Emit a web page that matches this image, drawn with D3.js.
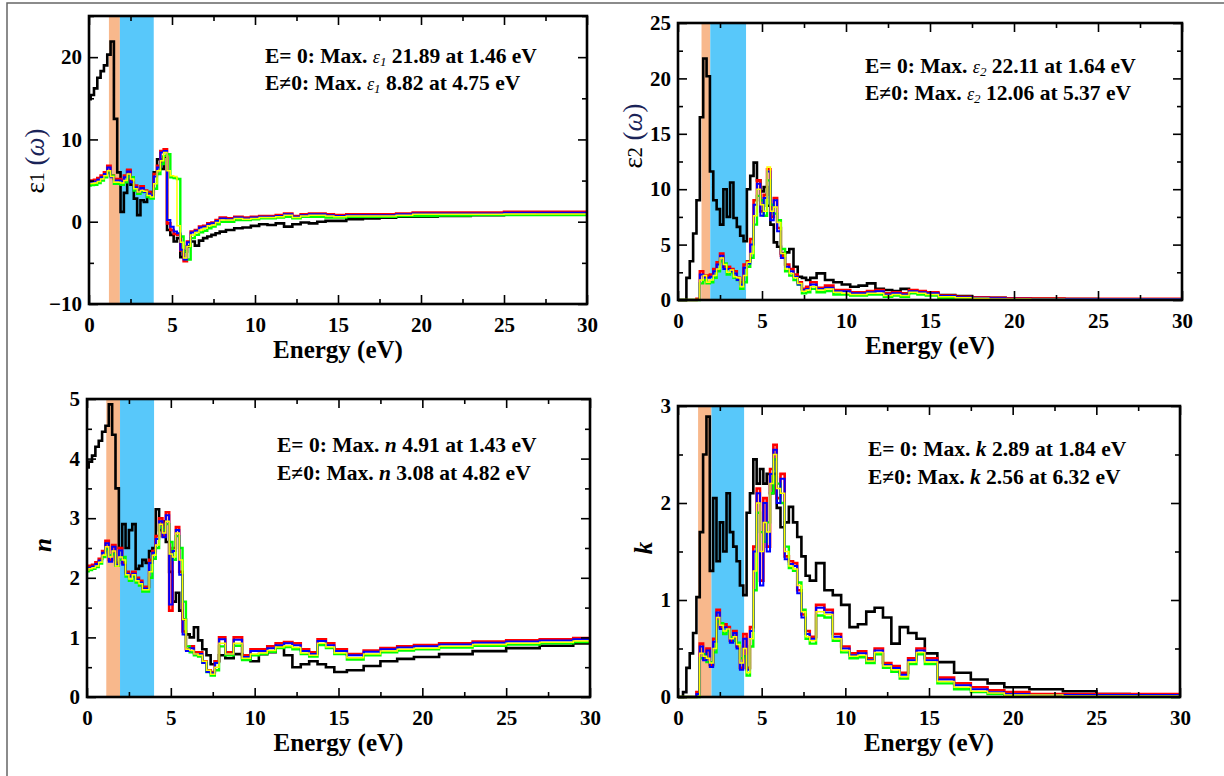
<!DOCTYPE html>
<html>
<head>
<meta charset="utf-8">
<script src="https://cdn.jsdelivr.net/npm/d3@7"></script>
<style>
	body { margin: 0; background: #fff; }
	svg { display: block; }
</style>
</head>
<body>
<div id="fig"></div>
<script>
// photon energy grid (eV), shared by every curve
const energy = [0, 0.2, 0.4, 0.6, 0.8, 1.0, 1.2, 1.4, 1.6, 1.8,
	2.0, 2.2, 2.4, 2.6, 2.8, 3.0, 3.2, 3.4, 3.6, 3.8,
	4.0, 4.2, 4.4, 4.6, 4.8, 5.0, 5.2, 5.4, 5.6, 5.8,
	6.0, 6.25, 6.5, 6.75, 7.0, 7.25, 7.5, 7.75, 8.0, 8.5,
	9, 9.5, 10, 10.5, 11, 11.5, 12, 12.5, 13, 13.5,
	14, 14.5, 15, 16, 17, 18, 19, 20, 22, 24,
	26, 28, 30]

// eps1 (real part)
const eps1Black = [14.9, 15.4, 16.2, 17.5, 18.3, 19.0, 20.3, 21.9, 12.5, 6.0,
	1.2, 3.5, 6.2, 4.5, 2.8, 0.8, 2.6, 2.4, 3.2, 3.6,
	6.0, 7.6, 6.4, 7.9, -1.0, -1.6, -2.4, -2.0, -4.3, -3.6,
	-3.0, -2.4, -2.9, -2.3, -2.0, -1.8, -1.6, -1.4, -1.2, -1.0,
	-0.8, -0.7, -0.5, -0.3, -0.4, -0.2, -0.6, -0.3, -0.1, -0.2,
	0.0, 0.1, 0.1, 0.3, 0.4, 0.5, 0.6, 0.6, 0.7, 0.8,
	0.85, 0.9, 0.9]
const eps1Red = [5.0, 5.0, 5.1, 5.3, 5.6, 6.0, 6.8, 5.6, 5.2, 5.2,
	5.1, 5.6, 6.3, 5.0, 4.4, 3.8, 4.3, 3.8, 3.6, 3.4,
	5.8, 6.8, 8.6, 8.8, -0.2, -1.0, -1.5, -1.6, -3.5, -4.8,
	-2.4, -1.2, -1.0, -0.6, -0.5, -0.2, -0.1, 0.2, 0.5, 0.4,
	0.6, 0.5, 0.6, 0.7, 0.7, 0.8, 1.0, 0.7, 0.9, 1.0,
	1.0, 0.9, 0.8, 0.9, 0.9, 0.9, 1.0, 1.1, 1.1, 1.1,
	1.2, 1.2, 1.2]
const eps1Blue = [4.8, 4.85, 4.9, 5.1, 5.4, 5.8, 6.6, 5.4, 5.0, 5.0,
	4.9, 5.4, 6.1, 4.8, 4.2, 3.6, 4.1, 3.6, 3.4, 3.2,
	5.5, 6.6, 8.4, 8.6, 0.2, -0.6, -1.2, -1.4, -3.4, -4.6,
	-2.5, -1.3, -1.1, -0.7, -0.6, -0.3, -0.2, 0.1, 0.4, 0.3,
	0.5, 0.4, 0.5, 0.6, 0.6, 0.7, 0.9, 0.6, 0.8, 0.9,
	0.9, 0.8, 0.7, 0.8, 0.8, 0.8, 0.9, 1.0, 1.0, 1.0,
	1.1, 1.1, 1.1]
const eps1Yellow = [4.6, 4.65, 4.7, 4.9, 5.2, 5.6, 6.2, 5.5, 4.8, 4.8,
	4.7, 5.0, 5.8, 5.2, 4.0, 3.6, 3.8, 3.7, 3.2, 3.0,
	4.6, 6.2, 7.4, 8.4, 6.2, 5.6, 5.5, -0.5, -2.5, -4.4,
	-3.0, -1.6, -1.3, -1.0, -0.8, -0.5, -0.4, -0.1, 0.2, 0.2,
	0.4, 0.3, 0.4, 0.5, 0.5, 0.6, 0.8, 0.5, 0.7, 0.8,
	0.8, 0.7, 0.6, 0.7, 0.7, 0.7, 0.8, 0.9, 0.9, 0.9,
	0.95, 0.95, 0.95]
const eps1Green = [4.4, 4.45, 4.5, 4.7, 5.0, 5.4, 6.0, 5.6, 4.6, 4.6,
	4.5, 4.8, 5.5, 5.4, 3.8, 3.4, 3.6, 3.6, 3.0, 2.8,
	4.0, 5.8, 7.0, 8.0, 8.2, 5.4, 5.3, 5.2, -1.8, -3.6,
	-4.6, -2.0, -1.6, -1.3, -1.1, -0.8, -0.6, -0.3, 0.0, 0.0,
	0.2, 0.2, 0.3, 0.4, 0.4, 0.5, 0.6, 0.4, 0.6, 0.6,
	0.6, 0.5, 0.5, 0.6, 0.6, 0.6, 0.7, 0.7, 0.75, 0.8,
	0.8, 0.8, 0.8]

// eps2 (imaginary part)
const eps2Black = [0, 0, 0, 2.0, 3.5, 6.0, 9.0, 16.5, 21.8, 20.2,
	11.6, 9.0, 8.2, 6.8, 10.0, 7.5, 10.6, 7.4, 6.6, 5.8,
	5.3, 10.0, 11.2, 12.4, 10.8, 9.8, 10.2, 8.5, 6.8, 5.2,
	4.8, 4.2, 4.3, 4.6, 3.0, 2.1, 2.0, 1.8, 2.0, 2.4,
	1.8, 1.6, 1.4, 1.2, 1.3, 1.5, 1.0, 0.9, 0.8, 1.0,
	0.8, 0.7, 0.6, 0.45, 0.35, 0.25, 0.2, 0.15, 0.1, 0.08,
	0.06, 0.05, 0.05]
const eps2Red = [0, 0, 0, 0, 0, 0, 0.1, 2.6, 2.2, 2.2,
	2.3, 2.8, 3.4, 4.2, 3.0, 3.0, 2.8, 2.6, 2.0, 1.6,
	3.2, 3.5, 5.5, 9.0, 10.8, 8.0, 9.5, 11.8, 7.5, 9.2,
	6.5, 4.0, 3.2, 2.8, 2.3, 1.6, 1.0, 1.2, 1.6, 1.1,
	1.3, 0.9, 0.9, 0.7, 0.7, 0.8, 0.9, 0.6, 0.7, 0.6,
	0.9, 0.8, 0.7, 0.4, 0.3, 0.25, 0.2, 0.15, 0.12, 0.1,
	0.1, 0.1, 0.1]
const eps2Blue = [0, 0, 0, 0, 0, 0, 0, 2.3, 2.0, 2.0,
	2.1, 2.6, 3.2, 4.0, 2.8, 2.8, 2.6, 2.4, 1.8, 1.4,
	2.9, 3.3, 5.0, 8.6, 10.5, 7.6, 9.2, 11.6, 7.2, 9.0,
	6.2, 3.8, 3.0, 2.6, 2.1, 1.4, 0.9, 1.0, 1.4, 1.0,
	1.1, 0.8, 0.8, 0.6, 0.6, 0.7, 0.8, 0.5, 0.6, 0.5,
	0.8, 0.7, 0.6, 0.35, 0.25, 0.2, 0.15, 0.12, 0.1, 0.1,
	0.1, 0.1, 0.1]
const eps2Yellow = [0, 0, 0, 0, 0, 0, 0, 1.8, 2.2, 1.6,
	1.8, 2.2, 2.8, 3.8, 3.2, 2.5, 2.7, 2.1, 2.0, 1.2,
	2.2, 3.4, 4.2, 7.6, 10.0, 8.6, 8.0, 12.0, 8.0, 8.4,
	7.0, 4.2, 2.8, 2.4, 2.0, 1.5, 0.8, 0.9, 1.2, 0.9,
	1.0, 0.7, 0.6, 0.5, 0.5, 0.6, 0.6, 0.4, 0.5, 0.4,
	0.7, 0.6, 0.5, 0.3, 0.2, 0.15, 0.1, 0.08, 0.06, 0.05,
	0.05, 0.05, 0.05]
const eps2Green = [0, 0, 0, 0, 0, 0, 0, 1.5, 1.8, 1.5,
	1.6, 2.0, 2.6, 3.5, 3.3, 2.3, 2.5, 2.0, 1.8, 1.0,
	1.6, 3.0, 3.8, 6.8, 9.4, 9.0, 7.6, 10.8, 8.6, 7.8,
	7.2, 4.6, 2.6, 2.2, 1.8, 1.4, 0.6, 0.7, 1.0, 0.7,
	0.8, 0.5, 0.5, 0.4, 0.4, 0.5, 0.5, 0.3, 0.4, 0.3,
	0.6, 0.5, 0.4, 0.2, 0.15, 0.1, 0.05, 0.03, 0.02, 0.02,
	0.02, 0.02, 0.02]

// refractive index n
const nBlack = [3.85, 3.95, 4.05, 4.2, 4.3, 4.45, 4.55, 4.91, 4.4, 3.5,
	2.5, 2.9, 2.5, 2.8, 2.9, 2.15, 2.2, 2.3, 2.25, 2.45,
	2.5, 3.15, 2.8, 2.95, 2.6, 2.1, 1.6, 1.75, 1.45, 1.3,
	1.05, 1.0, 1.17, 0.95, 0.8, 0.7, 0.55, 0.6, 0.7, 0.65,
	0.72, 0.65, 0.6, 0.72, 0.75, 0.84, 0.7, 0.5, 0.55, 0.6,
	0.55, 0.5, 0.42, 0.45, 0.52, 0.6, 0.64, 0.67, 0.72, 0.77,
	0.82, 0.86, 0.9]
const nRed = [2.18, 2.2, 2.22, 2.26, 2.32, 2.45, 2.62, 2.3, 2.55, 2.25,
	2.5, 2.25, 2.1, 2.05, 2.1, 2.0, 1.95, 1.85, 1.85, 2.3,
	2.45, 2.7, 3.0, 2.7, 3.1, 1.45, 2.5, 2.85, 2.1, 1.1,
	0.8, 0.85, 0.75, 0.75, 0.6, 0.45, 0.42, 0.6, 1.0, 0.75,
	1.0, 0.7, 0.8, 0.8, 0.85, 0.9, 0.92, 0.9, 0.8, 0.75,
	0.97, 0.9, 0.8, 0.72, 0.78, 0.82, 0.85, 0.87, 0.9, 0.93,
	0.95, 0.97, 0.99]
const nBlue = [2.15, 2.17, 2.19, 2.23, 2.29, 2.42, 2.58, 2.27, 2.52, 2.22,
	2.46, 2.22, 2.07, 2.02, 2.07, 1.97, 1.92, 1.82, 1.82, 2.25,
	2.42, 2.65, 2.95, 2.68, 3.05, 1.55, 2.45, 2.8, 2.05, 1.05,
	0.77, 0.82, 0.72, 0.72, 0.57, 0.42, 0.4, 0.57, 0.97, 0.72,
	0.96, 0.67, 0.77, 0.77, 0.82, 0.87, 0.9, 0.87, 0.77, 0.72,
	0.94, 0.87, 0.77, 0.7, 0.76, 0.8, 0.83, 0.85, 0.88, 0.91,
	0.93, 0.95, 0.97]
const nYellow = [2.13, 2.15, 2.17, 2.2, 2.26, 2.38, 2.52, 2.35, 2.45, 2.2,
	2.35, 2.3, 2.05, 1.98, 2.05, 1.95, 1.9, 1.8, 1.8, 2.1,
	2.38, 2.55, 2.9, 2.75, 2.95, 2.4, 2.35, 2.75, 2.3, 1.3,
	0.8, 0.78, 0.72, 0.7, 0.6, 0.45, 0.38, 0.5, 0.9, 0.72,
	0.9, 0.65, 0.72, 0.74, 0.78, 0.84, 0.86, 0.83, 0.74, 0.7,
	0.9, 0.84, 0.74, 0.66, 0.72, 0.77, 0.8, 0.82, 0.85, 0.88,
	0.9, 0.92, 0.94]
const nGreen = [2.11, 2.13, 2.15, 2.18, 2.24, 2.35, 2.48, 2.38, 2.4, 2.2,
	2.3, 2.35, 2.02, 1.95, 2.02, 1.92, 1.87, 1.77, 1.77, 2.0,
	2.32, 2.5, 2.85, 2.8, 2.9, 2.6, 2.3, 2.7, 2.5, 1.6,
	0.85, 0.75, 0.7, 0.68, 0.58, 0.42, 0.36, 0.45, 0.85, 0.7,
	0.86, 0.62, 0.7, 0.72, 0.76, 0.82, 0.84, 0.8, 0.72, 0.68,
	0.87, 0.82, 0.72, 0.63, 0.7, 0.75, 0.78, 0.8, 0.83, 0.86,
	0.88, 0.9, 0.92]

// extinction coefficient k
const kBlack = [0, 0, 0.05, 0.3, 0.45, 0.66, 1.03, 1.7, 2.5, 2.89,
	1.3, 2.05, 1.4, 1.8, 1.5, 2.1, 1.7, 1.55, 1.4, 1.15,
	1.05, 1.9, 2.1, 2.45, 2.2, 2.35, 2.2, 2.3, 2.1, 2.3,
	1.95, 1.75, 1.8, 1.96, 1.8, 1.65, 1.45, 1.25, 1.2, 1.38,
	1.1, 1.05, 0.95, 0.72, 0.75, 0.88, 0.92, 0.82, 0.55, 0.72,
	0.66, 0.6, 0.45, 0.36, 0.25, 0.18, 0.14, 0.1, 0.08, 0.06,
	0.03, 0.02, 0.02]
const kRed = [0, 0, 0, 0, 0, 0, 0.05, 0.55, 0.4, 0.5,
	0.33, 0.6, 0.9, 0.72, 0.75, 0.72, 0.58, 0.68, 0.52, 0.3,
	0.65, 0.3, 0.72, 1.55, 2.15, 1.2, 2.05, 1.55, 2.35, 2.6,
	2.05, 2.3, 1.45, 1.4, 1.38, 1.1, 0.85, 0.68, 0.62, 0.95,
	0.9, 0.65, 0.52, 0.45, 0.47, 0.4, 0.5, 0.35, 0.32, 0.25,
	0.4, 0.5, 0.4, 0.2, 0.14, 0.1, 0.07, 0.05, 0.03, 0.03,
	0.03, 0.03, 0.03]
const kBlue = [0, 0, 0, 0, 0, 0, 0.03, 0.52, 0.38, 0.48,
	0.31, 0.57, 0.87, 0.7, 0.72, 0.7, 0.56, 0.66, 0.5, 0.28,
	0.6, 0.28, 0.68, 1.5, 2.1, 1.15, 2.0, 1.5, 2.3, 2.55,
	2.0, 2.25, 1.42, 1.37, 1.35, 1.07, 0.82, 0.65, 0.6, 0.92,
	0.87, 0.62, 0.5, 0.43, 0.45, 0.38, 0.48, 0.33, 0.3, 0.23,
	0.38, 0.48, 0.38, 0.18, 0.12, 0.08, 0.05, 0.03, 0.02, 0.02,
	0.02, 0.02, 0.02]
const kYellow = [0, 0, 0, 0, 0, 0, 0, 0.45, 0.42, 0.4,
	0.35, 0.5, 0.82, 0.74, 0.68, 0.7, 0.6, 0.62, 0.54, 0.35,
	0.5, 0.25, 0.6, 1.3, 2.0, 1.5, 1.8, 1.7, 2.2, 2.5,
	2.15, 2.1, 1.5, 1.35, 1.32, 1.15, 0.88, 0.62, 0.58, 0.88,
	0.85, 0.6, 0.48, 0.42, 0.43, 0.37, 0.46, 0.32, 0.28, 0.21,
	0.36, 0.46, 0.36, 0.16, 0.1, 0.06, 0.04, 0.02, 0.02, 0.01,
	0.01, 0.01, 0.01]
const kGreen = [0, 0, 0, 0, 0, 0, 0, 0.4, 0.44, 0.36,
	0.36, 0.46, 0.78, 0.76, 0.65, 0.68, 0.62, 0.58, 0.56, 0.4,
	0.42, 0.22, 0.52, 1.1, 1.9, 1.7, 1.6, 1.8, 2.1, 2.45,
	2.2, 2.0, 1.55, 1.33, 1.3, 1.18, 0.9, 0.6, 0.55, 0.84,
	0.82, 0.58, 0.46, 0.4, 0.41, 0.35, 0.44, 0.3, 0.26, 0.19,
	0.34, 0.44, 0.34, 0.14, 0.08, 0.05, 0.03, 0.01, 0.01, 0.0,
	0.0, 0.0, 0.0]

// shaded energy windows (eV) per panel
const orangeBands = [[1.2, 1.86], [1.4, 1.92], [1.15, 1.97], [1.2, 2.0]]
const blueBands = [[1.86, 3.9], [1.92, 4.05], [1.97, 4.0], [2.0, 3.95]]

// annotation numbers
const maxZero = ["21.89", "22.11", "4.91", "2.89"]
const atZero = ["1.46", "1.64", "1.43", "1.84"]
const maxField = ["8.82", "12.06", "3.08", "2.56"]
const atField = ["4.75", "5.37", "4.82", "6.32"]

const xMajor = [0, 5, 10, 15, 20, 25, 30]
const xMinor = [2.5, 7.5, 12.5, 17.5, 22.5, 27.5]

const seriesColors = ["#ff0000", "#00ff00", "#0000ff", "#ffff00"]

const panels = [
	{ left: 89, right: 587, top: 16, bottom: 304, yDomain: [-10, 25], yMajor: [-10, 0, 10, 20], yMinor: [-5, 5, 15, 25],
		black: eps1Black, colored: [eps1Red, eps1Green, eps1Blue, eps1Yellow],
		sym: "ε", sub: "1", noteX: 265, noteY: [63, 90], labelX: 35, labelY: 161 },
	{ left: 678, right: 1182, top: 23, bottom: 300, yDomain: [0, 25], yMajor: [0, 5, 10, 15, 20, 25], yMinor: [2.5, 7.5, 12.5, 17.5, 22.5],
		black: eps2Black, colored: [eps2Red, eps2Green, eps2Blue, eps2Yellow],
		sym: "ε", sub: "2", noteX: 865, noteY: [73, 100], labelX: 633, labelY: 136 },
	{ left: 87, right: 590, top: 399, bottom: 697, yDomain: [0, 5], yMajor: [0, 1, 2, 3, 4, 5], yMinor: [0.5, 1.5, 2.5, 3.5, 4.5],
		black: nBlack, colored: [nRed, nGreen, nBlue, nYellow],
		sym: "n", sub: "", noteX: 277, noteY: [452, 480], labelX: 42, labelY: 545 },
	{ left: 678, right: 1180, top: 406, bottom: 697, yDomain: [0, 3], yMajor: [0, 1, 2, 3], yMinor: [0.5, 1.5, 2.5],
		black: kBlack, colored: [kRed, kGreen, kBlue, kYellow],
		sym: "k", sub: "", noteX: 868, noteY: [456, 484], labelX: 643, labelY: 548 }
]

const serif = "'Liberation Serif', 'DejaVu Serif', serif"

const svg = d3.select("#fig")
	.append("svg")
	.attr("width", 1224)
	.attr("height", 776)
	.style("font-family", serif)

// outer frame of the figure
svg.append("rect")
	.attr("x", 7)
	.attr("y", 3)
	.attr("width", 1300)
	.attr("height", 900)
	.attr("fill", "#fff")
	.attr("stroke", "#666")
	.attr("stroke-width", 1.5)

panels.forEach((p, i) => drawPanel(p, i))

function drawPanel(p, i) {
	const x = d3.scaleLinear().domain([0, 30]).range([p.left, p.right])
	const y = d3.scaleLinear().domain(p.yDomain).range([p.bottom, p.top])
	const g = svg.append("g")

	// bands
	g.append("rect")
		.attr("x", x(orangeBands[i][0]))
		.attr("y", p.top)
		.attr("width", x(orangeBands[i][1]) - x(orangeBands[i][0]))
		.attr("height", p.bottom - p.top)
		.attr("fill", "#f8b88c")
	g.append("rect")
		.attr("x", x(blueBands[i][0]))
		.attr("y", p.top)
		.attr("width", x(blueBands[i][1]) - x(blueBands[i][0]))
		.attr("height", p.bottom - p.top)
		.attr("fill", "#58c8fa")

	const line = d3.line()
		.x((d, j) => x(energy[j]))
		.y(d => y(d))
		.curve(d3.curveStep)

	g.append("path")
		.attr("d", line(p.black))
		.attr("fill", "none")
		.attr("stroke", "#000")
		.attr("stroke-width", 2.6)

	const widths = [2.6, 2.4, 2, 1.5]
	p.colored.forEach((vals, k) => {
		g.append("path")
			.attr("d", line(vals))
			.attr("fill", "none")
			.attr("stroke", seriesColors[k])
			.attr("stroke-width", widths[k])
	})

	// axes, ticks pointing inward on all four sides
	const font = s => s.attr("font-family", serif)
		.attr("font-size", 21)
		.attr("font-weight", "bold")

	g.append("g")
		.attr("transform", `translate(0,${p.bottom})`)
		.call(d3.axisBottom(x).tickValues(xMajor).tickSize(-9).tickPadding(13).tickFormat(d3.format("d")))
		.call(font)
	g.append("g")
		.attr("transform", `translate(0,${p.bottom})`)
		.call(d3.axisBottom(x).tickValues(xMinor).tickSize(-5).tickFormat(""))
	g.append("g")
		.attr("transform", `translate(0,${p.top})`)
		.call(d3.axisTop(x).tickValues(xMajor).tickSize(-9).tickFormat(""))
	g.append("g")
		.attr("transform", `translate(0,${p.top})`)
		.call(d3.axisTop(x).tickValues(xMinor).tickSize(-5).tickFormat(""))

	g.append("g")
		.attr("transform", `translate(${p.left},0)`)
		.call(d3.axisLeft(y).tickValues(p.yMajor).tickSize(-9).tickPadding(7).tickFormat(d3.format("d")))
		.call(font)
	g.append("g")
		.attr("transform", `translate(${p.left},0)`)
		.call(d3.axisLeft(y).tickValues(p.yMinor).tickSize(-5).tickFormat(""))
	g.append("g")
		.attr("transform", `translate(${p.right},0)`)
		.call(d3.axisRight(y).tickValues(p.yMajor).tickSize(-9).tickFormat(""))
	g.append("g")
		.attr("transform", `translate(${p.right},0)`)
		.call(d3.axisRight(y).tickValues(p.yMinor).tickSize(-5).tickFormat(""))

	g.selectAll(".domain").remove()
	g.selectAll(".tick line").attr("stroke", "#000").attr("stroke-width", 1.6)
	g.selectAll(".tick text").attr("fill", "#000")

	g.append("rect")
		.attr("x", p.left)
		.attr("y", p.top)
		.attr("width", p.right - p.left)
		.attr("height", p.bottom - p.top)
		.attr("fill", "none")
		.attr("stroke", "#000")
		.attr("stroke-width", 2.6)

	// x title
	g.append("text")
		.attr("x", (p.left + p.right) / 2)
		.attr("y", p.bottom + 54)
		.attr("text-anchor", "middle")
		.style("font-size", "25px")
		.style("font-weight", "bold")
		.text("Energy (eV)")

	// y title
	const yt = g.append("text")
		.attr("transform", `translate(${p.labelX},${p.labelY}) rotate(-90)`)
		.attr("text-anchor", "middle")
		.attr("dy", "0.35em")
	if (p.sub) {
		yt.style("font-size", "27px")
		yt.append("tspan").text(p.sym)
		yt.append("tspan").text(p.sub).style("font-size", "20px")
		yt.append("tspan").text(" (").style("fill", "#1a2358")
		yt.append("tspan").text("ω").style("font-style", "italic").style("fill", "#1a2358")
		yt.append("tspan").text(")").style("fill", "#1a2358")
	} else {
		yt.style("font-size", "25px")
			.style("font-weight", "bold")
			.style("font-style", "italic")
			.text(p.sym)
	}

	// max annotations
	const lines = [["E= 0: Max. ", maxZero[i], atZero[i]], ["E\u22600: Max. ", maxField[i], atField[i]]]
	lines.forEach((l, r) => {
		const t = g.append("text")
			.attr("x", p.noteX)
			.attr("y", p.noteY[r])
			.style("font-size", "21.5px")
			.style("font-weight", "bold")
		t.append("tspan").text(l[0])
		if (p.sub) {
			t.append("tspan").text(p.sym).style("font-style", "italic").style("font-weight", "normal").style("font-size", "18px")
			t.append("tspan").text(p.sub).style("font-style", "italic").style("font-weight", "normal").style("font-size", "13px").attr("dy", 3)
			t.append("tspan").text(" " + l[1] + " at " + l[2] + " eV").attr("dy", -3)
		} else {
			t.append("tspan").text(p.sym).style("font-style", "italic")
			t.append("tspan").text(" " + l[1] + " at " + l[2] + " eV")
		}
	})
}
</script>
</body>
</html>
